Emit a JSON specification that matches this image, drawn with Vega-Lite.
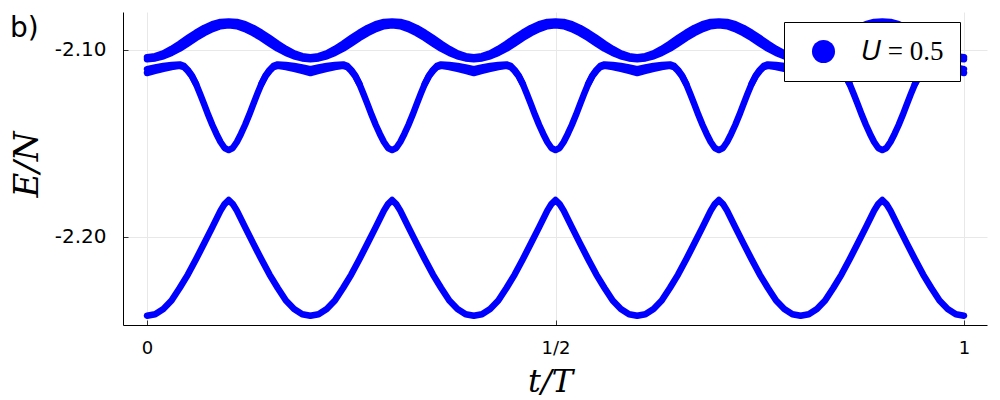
{
"$schema":"https://vega.github.io/schema/vega-lite/v6.json",
"width":864,"height":313,
"autosize":{"type":"none"},
"padding":{"left":123,"top":12,"right":13,"bottom":75},
"background":"white",
"title":{"text":"b)","anchor":"start","frame":"group","orient":"top","offset":0,"dx":-113,"dy":53,"baseline":"alphabetic","fontSize":28,"font":"DejaVu Sans","fontWeight":"normal","color":"black"},
"config":{"view":{"stroke":null}},
"data":{"values":[
{"t":0,"E":-2.1038,"c":"a"},{"t":0.01,"E":-2.1033,"c":"a"},{"t":0.02,"E":-2.1018,"c":"a"},{"t":0.03,"E":-2.0994,"c":"a"},{"t":0.04,"E":-2.0966,"c":"a"},{"t":0.05,"E":-2.0936,"c":"a"},{"t":0.06,"E":-2.0907,"c":"a"},{"t":0.07,"E":-2.0882,"c":"a"},{"t":0.08,"E":-2.0862,"c":"a"},{"t":0.09,"E":-2.085,"c":"a"},{"t":0.1,"E":-2.0847,"c":"a"},{"t":0.11,"E":-2.085,"c":"a"},{"t":0.12,"E":-2.0862,"c":"a"},{"t":0.13,"E":-2.0882,"c":"a"},{"t":0.14,"E":-2.0907,"c":"a"},{"t":0.15,"E":-2.0936,"c":"a"},{"t":0.16,"E":-2.0966,"c":"a"},{"t":0.17,"E":-2.0994,"c":"a"},{"t":0.18,"E":-2.1018,"c":"a"},{"t":0.19,"E":-2.1033,"c":"a"},
{"t":0.2,"E":-2.1038,"c":"a"},{"t":0.21,"E":-2.1033,"c":"a"},{"t":0.22,"E":-2.1018,"c":"a"},{"t":0.23,"E":-2.0994,"c":"a"},{"t":0.24,"E":-2.0966,"c":"a"},{"t":0.25,"E":-2.0936,"c":"a"},{"t":0.26,"E":-2.0907,"c":"a"},{"t":0.27,"E":-2.0882,"c":"a"},{"t":0.28,"E":-2.0862,"c":"a"},{"t":0.29,"E":-2.085,"c":"a"},{"t":0.3,"E":-2.0847,"c":"a"},{"t":0.31,"E":-2.085,"c":"a"},{"t":0.32,"E":-2.0862,"c":"a"},{"t":0.33,"E":-2.0882,"c":"a"},{"t":0.34,"E":-2.0907,"c":"a"},{"t":0.35,"E":-2.0936,"c":"a"},{"t":0.36,"E":-2.0966,"c":"a"},{"t":0.37,"E":-2.0994,"c":"a"},{"t":0.38,"E":-2.1018,"c":"a"},{"t":0.39,"E":-2.1033,"c":"a"},
{"t":0.4,"E":-2.1038,"c":"a"},{"t":0.41,"E":-2.1033,"c":"a"},{"t":0.42,"E":-2.1018,"c":"a"},{"t":0.43,"E":-2.0994,"c":"a"},{"t":0.44,"E":-2.0966,"c":"a"},{"t":0.45,"E":-2.0936,"c":"a"},{"t":0.46,"E":-2.0907,"c":"a"},{"t":0.47,"E":-2.0882,"c":"a"},{"t":0.48,"E":-2.0862,"c":"a"},{"t":0.49,"E":-2.085,"c":"a"},{"t":0.5,"E":-2.0847,"c":"a"},{"t":0.51,"E":-2.085,"c":"a"},{"t":0.52,"E":-2.0862,"c":"a"},{"t":0.53,"E":-2.0882,"c":"a"},{"t":0.54,"E":-2.0907,"c":"a"},{"t":0.55,"E":-2.0936,"c":"a"},{"t":0.56,"E":-2.0966,"c":"a"},{"t":0.57,"E":-2.0994,"c":"a"},{"t":0.58,"E":-2.1018,"c":"a"},{"t":0.59,"E":-2.1033,"c":"a"},
{"t":0.6,"E":-2.1038,"c":"a"},{"t":0.61,"E":-2.1033,"c":"a"},{"t":0.62,"E":-2.1018,"c":"a"},{"t":0.63,"E":-2.0994,"c":"a"},{"t":0.64,"E":-2.0966,"c":"a"},{"t":0.65,"E":-2.0936,"c":"a"},{"t":0.66,"E":-2.0907,"c":"a"},{"t":0.67,"E":-2.0882,"c":"a"},{"t":0.68,"E":-2.0862,"c":"a"},{"t":0.69,"E":-2.085,"c":"a"},{"t":0.7,"E":-2.0847,"c":"a"},{"t":0.71,"E":-2.085,"c":"a"},{"t":0.72,"E":-2.0862,"c":"a"},{"t":0.73,"E":-2.0882,"c":"a"},{"t":0.74,"E":-2.0907,"c":"a"},{"t":0.75,"E":-2.0936,"c":"a"},{"t":0.76,"E":-2.0966,"c":"a"},{"t":0.77,"E":-2.0994,"c":"a"},{"t":0.78,"E":-2.1018,"c":"a"},{"t":0.79,"E":-2.1033,"c":"a"},
{"t":0.8,"E":-2.1038,"c":"a"},{"t":0.81,"E":-2.1033,"c":"a"},{"t":0.82,"E":-2.1018,"c":"a"},{"t":0.83,"E":-2.0994,"c":"a"},{"t":0.84,"E":-2.0966,"c":"a"},{"t":0.85,"E":-2.0936,"c":"a"},{"t":0.86,"E":-2.0907,"c":"a"},{"t":0.87,"E":-2.0882,"c":"a"},{"t":0.88,"E":-2.0862,"c":"a"},{"t":0.89,"E":-2.085,"c":"a"},{"t":0.9,"E":-2.0847,"c":"a"},{"t":0.91,"E":-2.085,"c":"a"},{"t":0.92,"E":-2.0862,"c":"a"},{"t":0.93,"E":-2.0882,"c":"a"},{"t":0.94,"E":-2.0907,"c":"a"},{"t":0.95,"E":-2.0936,"c":"a"},{"t":0.96,"E":-2.0966,"c":"a"},{"t":0.97,"E":-2.0994,"c":"a"},{"t":0.98,"E":-2.1018,"c":"a"},{"t":0.99,"E":-2.1033,"c":"a"},{"t":1,"E":-2.1038,"c":"a"},
{"t":0,"E":-2.1049,"c":"b"},{"t":0.01,"E":-2.1045,"c":"b"},{"t":0.02,"E":-2.1034,"c":"b"},{"t":0.03,"E":-2.1016,"c":"b"},{"t":0.04,"E":-2.0993,"c":"b"},{"t":0.05,"E":-2.0965,"c":"b"},{"t":0.06,"E":-2.0936,"c":"b"},{"t":0.07,"E":-2.091,"c":"b"},{"t":0.08,"E":-2.0888,"c":"b"},{"t":0.09,"E":-2.0873,"c":"b"},{"t":0.1,"E":-2.0868,"c":"b"},{"t":0.11,"E":-2.0873,"c":"b"},{"t":0.12,"E":-2.0888,"c":"b"},{"t":0.13,"E":-2.091,"c":"b"},{"t":0.14,"E":-2.0936,"c":"b"},{"t":0.15,"E":-2.0965,"c":"b"},{"t":0.16,"E":-2.0993,"c":"b"},{"t":0.17,"E":-2.1016,"c":"b"},{"t":0.18,"E":-2.1034,"c":"b"},{"t":0.19,"E":-2.1045,"c":"b"},
{"t":0.2,"E":-2.1049,"c":"b"},{"t":0.21,"E":-2.1045,"c":"b"},{"t":0.22,"E":-2.1034,"c":"b"},{"t":0.23,"E":-2.1016,"c":"b"},{"t":0.24,"E":-2.0993,"c":"b"},{"t":0.25,"E":-2.0965,"c":"b"},{"t":0.26,"E":-2.0936,"c":"b"},{"t":0.27,"E":-2.091,"c":"b"},{"t":0.28,"E":-2.0888,"c":"b"},{"t":0.29,"E":-2.0873,"c":"b"},{"t":0.3,"E":-2.0868,"c":"b"},{"t":0.31,"E":-2.0873,"c":"b"},{"t":0.32,"E":-2.0888,"c":"b"},{"t":0.33,"E":-2.091,"c":"b"},{"t":0.34,"E":-2.0936,"c":"b"},{"t":0.35,"E":-2.0965,"c":"b"},{"t":0.36,"E":-2.0993,"c":"b"},{"t":0.37,"E":-2.1016,"c":"b"},{"t":0.38,"E":-2.1034,"c":"b"},{"t":0.39,"E":-2.1045,"c":"b"},
{"t":0.4,"E":-2.1049,"c":"b"},{"t":0.41,"E":-2.1045,"c":"b"},{"t":0.42,"E":-2.1034,"c":"b"},{"t":0.43,"E":-2.1016,"c":"b"},{"t":0.44,"E":-2.0993,"c":"b"},{"t":0.45,"E":-2.0965,"c":"b"},{"t":0.46,"E":-2.0936,"c":"b"},{"t":0.47,"E":-2.091,"c":"b"},{"t":0.48,"E":-2.0888,"c":"b"},{"t":0.49,"E":-2.0873,"c":"b"},{"t":0.5,"E":-2.0868,"c":"b"},{"t":0.51,"E":-2.0873,"c":"b"},{"t":0.52,"E":-2.0888,"c":"b"},{"t":0.53,"E":-2.091,"c":"b"},{"t":0.54,"E":-2.0936,"c":"b"},{"t":0.55,"E":-2.0965,"c":"b"},{"t":0.56,"E":-2.0993,"c":"b"},{"t":0.57,"E":-2.1016,"c":"b"},{"t":0.58,"E":-2.1034,"c":"b"},{"t":0.59,"E":-2.1045,"c":"b"},
{"t":0.6,"E":-2.1049,"c":"b"},{"t":0.61,"E":-2.1045,"c":"b"},{"t":0.62,"E":-2.1034,"c":"b"},{"t":0.63,"E":-2.1016,"c":"b"},{"t":0.64,"E":-2.0993,"c":"b"},{"t":0.65,"E":-2.0965,"c":"b"},{"t":0.66,"E":-2.0936,"c":"b"},{"t":0.67,"E":-2.091,"c":"b"},{"t":0.68,"E":-2.0888,"c":"b"},{"t":0.69,"E":-2.0873,"c":"b"},{"t":0.7,"E":-2.0868,"c":"b"},{"t":0.71,"E":-2.0873,"c":"b"},{"t":0.72,"E":-2.0888,"c":"b"},{"t":0.73,"E":-2.091,"c":"b"},{"t":0.74,"E":-2.0936,"c":"b"},{"t":0.75,"E":-2.0965,"c":"b"},{"t":0.76,"E":-2.0993,"c":"b"},{"t":0.77,"E":-2.1016,"c":"b"},{"t":0.78,"E":-2.1034,"c":"b"},{"t":0.79,"E":-2.1045,"c":"b"},
{"t":0.8,"E":-2.1049,"c":"b"},{"t":0.81,"E":-2.1045,"c":"b"},{"t":0.82,"E":-2.1034,"c":"b"},{"t":0.83,"E":-2.1016,"c":"b"},{"t":0.84,"E":-2.0993,"c":"b"},{"t":0.85,"E":-2.0965,"c":"b"},{"t":0.86,"E":-2.0936,"c":"b"},{"t":0.87,"E":-2.091,"c":"b"},{"t":0.88,"E":-2.0888,"c":"b"},{"t":0.89,"E":-2.0873,"c":"b"},{"t":0.9,"E":-2.0868,"c":"b"},{"t":0.91,"E":-2.0873,"c":"b"},{"t":0.92,"E":-2.0888,"c":"b"},{"t":0.93,"E":-2.091,"c":"b"},{"t":0.94,"E":-2.0936,"c":"b"},{"t":0.95,"E":-2.0965,"c":"b"},{"t":0.96,"E":-2.0993,"c":"b"},{"t":0.97,"E":-2.1016,"c":"b"},{"t":0.98,"E":-2.1034,"c":"b"},{"t":0.99,"E":-2.1045,"c":"b"},{"t":1,"E":-2.1049,"c":"b"},
{"t":0,"E":-2.1102,"c":"m"},{"t":0.01,"E":-2.1093,"c":"m"},{"t":0.02,"E":-2.1085,"c":"m"},{"t":0.03,"E":-2.108,"c":"m"},{"t":0.04,"E":-2.1077,"c":"m"},{"t":0.045,"E":-2.1085,"c":"m"},{"t":0.05,"E":-2.1107,"c":"m"},{"t":0.055,"E":-2.1137,"c":"m"},{"t":0.06,"E":-2.1182,"c":"m"},{"t":0.065,"E":-2.1235,"c":"m"},{"t":0.07,"E":-2.1291,"c":"m"},{"t":0.075,"E":-2.1348,"c":"m"},{"t":0.08,"E":-2.1401,"c":"m"},{"t":0.085,"E":-2.1449,"c":"m"},{"t":0.09,"E":-2.1492,"c":"m"},{"t":0.095,"E":-2.1524,"c":"m"},{"t":0.1,"E":-2.1535,"c":"m"},{"t":0.105,"E":-2.1524,"c":"m"},{"t":0.11,"E":-2.1492,"c":"m"},{"t":0.115,"E":-2.1449,"c":"m"},{"t":0.12,"E":-2.1401,"c":"m"},{"t":0.125,"E":-2.1348,"c":"m"},{"t":0.13,"E":-2.1291,"c":"m"},{"t":0.135,"E":-2.1235,"c":"m"},{"t":0.14,"E":-2.1182,"c":"m"},{"t":0.145,"E":-2.1137,"c":"m"},{"t":0.15,"E":-2.1107,"c":"m"},{"t":0.155,"E":-2.1085,"c":"m"},{"t":0.16,"E":-2.1077,"c":"m"},{"t":0.17,"E":-2.108,"c":"m"},{"t":0.18,"E":-2.1085,"c":"m"},{"t":0.19,"E":-2.1093,"c":"m"},
{"t":0.2,"E":-2.1102,"c":"m"},{"t":0.21,"E":-2.1093,"c":"m"},{"t":0.22,"E":-2.1085,"c":"m"},{"t":0.23,"E":-2.108,"c":"m"},{"t":0.24,"E":-2.1077,"c":"m"},{"t":0.245,"E":-2.1085,"c":"m"},{"t":0.25,"E":-2.1107,"c":"m"},{"t":0.255,"E":-2.1137,"c":"m"},{"t":0.26,"E":-2.1182,"c":"m"},{"t":0.265,"E":-2.1235,"c":"m"},{"t":0.27,"E":-2.1291,"c":"m"},{"t":0.275,"E":-2.1348,"c":"m"},{"t":0.28,"E":-2.1401,"c":"m"},{"t":0.285,"E":-2.1449,"c":"m"},{"t":0.29,"E":-2.1492,"c":"m"},{"t":0.295,"E":-2.1524,"c":"m"},{"t":0.3,"E":-2.1535,"c":"m"},{"t":0.305,"E":-2.1524,"c":"m"},{"t":0.31,"E":-2.1492,"c":"m"},{"t":0.315,"E":-2.1449,"c":"m"},{"t":0.32,"E":-2.1401,"c":"m"},{"t":0.325,"E":-2.1348,"c":"m"},{"t":0.33,"E":-2.1291,"c":"m"},{"t":0.335,"E":-2.1235,"c":"m"},{"t":0.34,"E":-2.1182,"c":"m"},{"t":0.345,"E":-2.1137,"c":"m"},{"t":0.35,"E":-2.1107,"c":"m"},{"t":0.355,"E":-2.1085,"c":"m"},{"t":0.36,"E":-2.1077,"c":"m"},{"t":0.37,"E":-2.108,"c":"m"},{"t":0.38,"E":-2.1085,"c":"m"},{"t":0.39,"E":-2.1093,"c":"m"},
{"t":0.4,"E":-2.1102,"c":"m"},{"t":0.41,"E":-2.1093,"c":"m"},{"t":0.42,"E":-2.1085,"c":"m"},{"t":0.43,"E":-2.108,"c":"m"},{"t":0.44,"E":-2.1077,"c":"m"},{"t":0.445,"E":-2.1085,"c":"m"},{"t":0.45,"E":-2.1107,"c":"m"},{"t":0.455,"E":-2.1137,"c":"m"},{"t":0.46,"E":-2.1182,"c":"m"},{"t":0.465,"E":-2.1235,"c":"m"},{"t":0.47,"E":-2.1291,"c":"m"},{"t":0.475,"E":-2.1348,"c":"m"},{"t":0.48,"E":-2.1401,"c":"m"},{"t":0.485,"E":-2.1449,"c":"m"},{"t":0.49,"E":-2.1492,"c":"m"},{"t":0.495,"E":-2.1524,"c":"m"},{"t":0.5,"E":-2.1535,"c":"m"},{"t":0.505,"E":-2.1524,"c":"m"},{"t":0.51,"E":-2.1492,"c":"m"},{"t":0.515,"E":-2.1449,"c":"m"},{"t":0.52,"E":-2.1401,"c":"m"},{"t":0.525,"E":-2.1348,"c":"m"},{"t":0.53,"E":-2.1291,"c":"m"},{"t":0.535,"E":-2.1235,"c":"m"},{"t":0.54,"E":-2.1182,"c":"m"},{"t":0.545,"E":-2.1137,"c":"m"},{"t":0.55,"E":-2.1107,"c":"m"},{"t":0.555,"E":-2.1085,"c":"m"},{"t":0.56,"E":-2.1077,"c":"m"},{"t":0.57,"E":-2.108,"c":"m"},{"t":0.58,"E":-2.1085,"c":"m"},{"t":0.59,"E":-2.1093,"c":"m"},
{"t":0.6,"E":-2.1102,"c":"m"},{"t":0.61,"E":-2.1093,"c":"m"},{"t":0.62,"E":-2.1085,"c":"m"},{"t":0.63,"E":-2.108,"c":"m"},{"t":0.64,"E":-2.1077,"c":"m"},{"t":0.645,"E":-2.1085,"c":"m"},{"t":0.65,"E":-2.1107,"c":"m"},{"t":0.655,"E":-2.1137,"c":"m"},{"t":0.66,"E":-2.1182,"c":"m"},{"t":0.665,"E":-2.1235,"c":"m"},{"t":0.67,"E":-2.1291,"c":"m"},{"t":0.675,"E":-2.1348,"c":"m"},{"t":0.68,"E":-2.1401,"c":"m"},{"t":0.685,"E":-2.1449,"c":"m"},{"t":0.69,"E":-2.1492,"c":"m"},{"t":0.695,"E":-2.1524,"c":"m"},{"t":0.7,"E":-2.1535,"c":"m"},{"t":0.705,"E":-2.1524,"c":"m"},{"t":0.71,"E":-2.1492,"c":"m"},{"t":0.715,"E":-2.1449,"c":"m"},{"t":0.72,"E":-2.1401,"c":"m"},{"t":0.725,"E":-2.1348,"c":"m"},{"t":0.73,"E":-2.1291,"c":"m"},{"t":0.735,"E":-2.1235,"c":"m"},{"t":0.74,"E":-2.1182,"c":"m"},{"t":0.745,"E":-2.1137,"c":"m"},{"t":0.75,"E":-2.1107,"c":"m"},{"t":0.755,"E":-2.1085,"c":"m"},{"t":0.76,"E":-2.1077,"c":"m"},{"t":0.77,"E":-2.108,"c":"m"},{"t":0.78,"E":-2.1085,"c":"m"},{"t":0.79,"E":-2.1093,"c":"m"},
{"t":0.8,"E":-2.1102,"c":"m"},{"t":0.81,"E":-2.1093,"c":"m"},{"t":0.82,"E":-2.1085,"c":"m"},{"t":0.83,"E":-2.108,"c":"m"},{"t":0.84,"E":-2.1077,"c":"m"},{"t":0.845,"E":-2.1085,"c":"m"},{"t":0.85,"E":-2.1107,"c":"m"},{"t":0.855,"E":-2.1137,"c":"m"},{"t":0.86,"E":-2.1182,"c":"m"},{"t":0.865,"E":-2.1235,"c":"m"},{"t":0.87,"E":-2.1291,"c":"m"},{"t":0.875,"E":-2.1348,"c":"m"},{"t":0.88,"E":-2.1401,"c":"m"},{"t":0.885,"E":-2.1449,"c":"m"},{"t":0.89,"E":-2.1492,"c":"m"},{"t":0.895,"E":-2.1524,"c":"m"},{"t":0.9,"E":-2.1535,"c":"m"},{"t":0.905,"E":-2.1524,"c":"m"},{"t":0.91,"E":-2.1492,"c":"m"},{"t":0.915,"E":-2.1449,"c":"m"},{"t":0.92,"E":-2.1401,"c":"m"},{"t":0.925,"E":-2.1348,"c":"m"},{"t":0.93,"E":-2.1291,"c":"m"},{"t":0.935,"E":-2.1235,"c":"m"},{"t":0.94,"E":-2.1182,"c":"m"},{"t":0.945,"E":-2.1137,"c":"m"},{"t":0.95,"E":-2.1107,"c":"m"},{"t":0.955,"E":-2.1085,"c":"m"},{"t":0.96,"E":-2.1077,"c":"m"},{"t":0.97,"E":-2.108,"c":"m"},{"t":0.98,"E":-2.1085,"c":"m"},{"t":0.99,"E":-2.1093,"c":"m"},{"t":1,"E":-2.1102,"c":"m"},
{"t":0,"E":-2.1123,"c":"n0"},{"t":0.01,"E":-2.1112,"c":"n0"},{"t":0.02,"E":-2.1101,"c":"n0"},{"t":0.03,"E":-2.1091,"c":"n0"},{"t":0.04,"E":-2.1085,"c":"n0"},{"t":0.045,"E":-2.1091,"c":"n0"},{"t":0.05,"E":-2.1112,"c":"n0"},{"t":0.055,"E":-2.1141,"c":"n0"},{"t":0.06,"E":-2.1182,"c":"n0"},
{"t":0.14,"E":-2.1182,"c":"n1"},{"t":0.145,"E":-2.1141,"c":"n1"},{"t":0.15,"E":-2.1112,"c":"n1"},{"t":0.155,"E":-2.1091,"c":"n1"},{"t":0.16,"E":-2.1085,"c":"n1"},{"t":0.17,"E":-2.1091,"c":"n1"},{"t":0.18,"E":-2.1101,"c":"n1"},{"t":0.19,"E":-2.1112,"c":"n1"},{"t":0.2,"E":-2.1123,"c":"n1"},{"t":0.21,"E":-2.1112,"c":"n1"},{"t":0.22,"E":-2.1101,"c":"n1"},{"t":0.23,"E":-2.1091,"c":"n1"},{"t":0.24,"E":-2.1085,"c":"n1"},{"t":0.245,"E":-2.1091,"c":"n1"},{"t":0.25,"E":-2.1112,"c":"n1"},{"t":0.255,"E":-2.1141,"c":"n1"},{"t":0.26,"E":-2.1182,"c":"n1"},
{"t":0.34,"E":-2.1182,"c":"n2"},{"t":0.345,"E":-2.1141,"c":"n2"},{"t":0.35,"E":-2.1112,"c":"n2"},{"t":0.355,"E":-2.1091,"c":"n2"},{"t":0.36,"E":-2.1085,"c":"n2"},{"t":0.37,"E":-2.1091,"c":"n2"},{"t":0.38,"E":-2.1101,"c":"n2"},{"t":0.39,"E":-2.1112,"c":"n2"},{"t":0.4,"E":-2.1123,"c":"n2"},{"t":0.41,"E":-2.1112,"c":"n2"},{"t":0.42,"E":-2.1101,"c":"n2"},{"t":0.43,"E":-2.1091,"c":"n2"},{"t":0.44,"E":-2.1085,"c":"n2"},{"t":0.445,"E":-2.1091,"c":"n2"},{"t":0.45,"E":-2.1112,"c":"n2"},{"t":0.455,"E":-2.1141,"c":"n2"},{"t":0.46,"E":-2.1182,"c":"n2"},
{"t":0.54,"E":-2.1182,"c":"n3"},{"t":0.545,"E":-2.1141,"c":"n3"},{"t":0.55,"E":-2.1112,"c":"n3"},{"t":0.555,"E":-2.1091,"c":"n3"},{"t":0.56,"E":-2.1085,"c":"n3"},{"t":0.57,"E":-2.1091,"c":"n3"},{"t":0.58,"E":-2.1101,"c":"n3"},{"t":0.59,"E":-2.1112,"c":"n3"},{"t":0.6,"E":-2.1123,"c":"n3"},{"t":0.61,"E":-2.1112,"c":"n3"},{"t":0.62,"E":-2.1101,"c":"n3"},{"t":0.63,"E":-2.1091,"c":"n3"},{"t":0.64,"E":-2.1085,"c":"n3"},{"t":0.645,"E":-2.1091,"c":"n3"},{"t":0.65,"E":-2.1112,"c":"n3"},{"t":0.655,"E":-2.1141,"c":"n3"},{"t":0.66,"E":-2.1182,"c":"n3"},
{"t":0.74,"E":-2.1182,"c":"n4"},{"t":0.745,"E":-2.1141,"c":"n4"},{"t":0.75,"E":-2.1112,"c":"n4"},{"t":0.755,"E":-2.1091,"c":"n4"},{"t":0.76,"E":-2.1085,"c":"n4"},{"t":0.77,"E":-2.1091,"c":"n4"},{"t":0.78,"E":-2.1101,"c":"n4"},{"t":0.79,"E":-2.1112,"c":"n4"},{"t":0.8,"E":-2.1123,"c":"n4"},{"t":0.81,"E":-2.1112,"c":"n4"},{"t":0.82,"E":-2.1101,"c":"n4"},{"t":0.83,"E":-2.1091,"c":"n4"},{"t":0.84,"E":-2.1085,"c":"n4"},{"t":0.845,"E":-2.1091,"c":"n4"},{"t":0.85,"E":-2.1112,"c":"n4"},{"t":0.855,"E":-2.1141,"c":"n4"},{"t":0.86,"E":-2.1182,"c":"n4"},
{"t":0.94,"E":-2.1182,"c":"n5"},{"t":0.945,"E":-2.1141,"c":"n5"},{"t":0.95,"E":-2.1112,"c":"n5"},{"t":0.955,"E":-2.1091,"c":"n5"},{"t":0.96,"E":-2.1085,"c":"n5"},{"t":0.97,"E":-2.1091,"c":"n5"},{"t":0.98,"E":-2.1101,"c":"n5"},{"t":0.99,"E":-2.1112,"c":"n5"},{"t":1,"E":-2.1123,"c":"n5"},
{"t":0,"E":-2.2421,"c":"z"},{"t":0.01,"E":-2.2413,"c":"z"},{"t":0.02,"E":-2.2385,"c":"z"},{"t":0.03,"E":-2.234,"c":"z"},{"t":0.04,"E":-2.2273,"c":"z"},{"t":0.05,"E":-2.2201,"c":"z"},{"t":0.06,"E":-2.2119,"c":"z"},{"t":0.07,"E":-2.2034,"c":"z"},{"t":0.08,"E":-2.1947,"c":"z"},{"t":0.09,"E":-2.1859,"c":"z"},{"t":0.095,"E":-2.1824,"c":"z"},{"t":0.1,"E":-2.1802,"c":"z"},{"t":0.105,"E":-2.1824,"c":"z"},{"t":0.11,"E":-2.1859,"c":"z"},{"t":0.12,"E":-2.1947,"c":"z"},{"t":0.13,"E":-2.2034,"c":"z"},{"t":0.14,"E":-2.2119,"c":"z"},{"t":0.15,"E":-2.2201,"c":"z"},{"t":0.16,"E":-2.2273,"c":"z"},{"t":0.17,"E":-2.234,"c":"z"},{"t":0.18,"E":-2.2385,"c":"z"},{"t":0.19,"E":-2.2413,"c":"z"},
{"t":0.2,"E":-2.2421,"c":"z"},{"t":0.21,"E":-2.2413,"c":"z"},{"t":0.22,"E":-2.2385,"c":"z"},{"t":0.23,"E":-2.234,"c":"z"},{"t":0.24,"E":-2.2273,"c":"z"},{"t":0.25,"E":-2.2201,"c":"z"},{"t":0.26,"E":-2.2119,"c":"z"},{"t":0.27,"E":-2.2034,"c":"z"},{"t":0.28,"E":-2.1947,"c":"z"},{"t":0.29,"E":-2.1859,"c":"z"},{"t":0.295,"E":-2.1824,"c":"z"},{"t":0.3,"E":-2.1802,"c":"z"},{"t":0.305,"E":-2.1824,"c":"z"},{"t":0.31,"E":-2.1859,"c":"z"},{"t":0.32,"E":-2.1947,"c":"z"},{"t":0.33,"E":-2.2034,"c":"z"},{"t":0.34,"E":-2.2119,"c":"z"},{"t":0.35,"E":-2.2201,"c":"z"},{"t":0.36,"E":-2.2273,"c":"z"},{"t":0.37,"E":-2.234,"c":"z"},{"t":0.38,"E":-2.2385,"c":"z"},{"t":0.39,"E":-2.2413,"c":"z"},
{"t":0.4,"E":-2.2421,"c":"z"},{"t":0.41,"E":-2.2413,"c":"z"},{"t":0.42,"E":-2.2385,"c":"z"},{"t":0.43,"E":-2.234,"c":"z"},{"t":0.44,"E":-2.2273,"c":"z"},{"t":0.45,"E":-2.2201,"c":"z"},{"t":0.46,"E":-2.2119,"c":"z"},{"t":0.47,"E":-2.2034,"c":"z"},{"t":0.48,"E":-2.1947,"c":"z"},{"t":0.49,"E":-2.1859,"c":"z"},{"t":0.495,"E":-2.1824,"c":"z"},{"t":0.5,"E":-2.1802,"c":"z"},{"t":0.505,"E":-2.1824,"c":"z"},{"t":0.51,"E":-2.1859,"c":"z"},{"t":0.52,"E":-2.1947,"c":"z"},{"t":0.53,"E":-2.2034,"c":"z"},{"t":0.54,"E":-2.2119,"c":"z"},{"t":0.55,"E":-2.2201,"c":"z"},{"t":0.56,"E":-2.2273,"c":"z"},{"t":0.57,"E":-2.234,"c":"z"},{"t":0.58,"E":-2.2385,"c":"z"},{"t":0.59,"E":-2.2413,"c":"z"},
{"t":0.6,"E":-2.2421,"c":"z"},{"t":0.61,"E":-2.2413,"c":"z"},{"t":0.62,"E":-2.2385,"c":"z"},{"t":0.63,"E":-2.234,"c":"z"},{"t":0.64,"E":-2.2273,"c":"z"},{"t":0.65,"E":-2.2201,"c":"z"},{"t":0.66,"E":-2.2119,"c":"z"},{"t":0.67,"E":-2.2034,"c":"z"},{"t":0.68,"E":-2.1947,"c":"z"},{"t":0.69,"E":-2.1859,"c":"z"},{"t":0.695,"E":-2.1824,"c":"z"},{"t":0.7,"E":-2.1802,"c":"z"},{"t":0.705,"E":-2.1824,"c":"z"},{"t":0.71,"E":-2.1859,"c":"z"},{"t":0.72,"E":-2.1947,"c":"z"},{"t":0.73,"E":-2.2034,"c":"z"},{"t":0.74,"E":-2.2119,"c":"z"},{"t":0.75,"E":-2.2201,"c":"z"},{"t":0.76,"E":-2.2273,"c":"z"},{"t":0.77,"E":-2.234,"c":"z"},{"t":0.78,"E":-2.2385,"c":"z"},{"t":0.79,"E":-2.2413,"c":"z"},
{"t":0.8,"E":-2.2421,"c":"z"},{"t":0.81,"E":-2.2413,"c":"z"},{"t":0.82,"E":-2.2385,"c":"z"},{"t":0.83,"E":-2.234,"c":"z"},{"t":0.84,"E":-2.2273,"c":"z"},{"t":0.85,"E":-2.2201,"c":"z"},{"t":0.86,"E":-2.2119,"c":"z"},{"t":0.87,"E":-2.2034,"c":"z"},{"t":0.88,"E":-2.1947,"c":"z"},{"t":0.89,"E":-2.1859,"c":"z"},{"t":0.895,"E":-2.1824,"c":"z"},{"t":0.9,"E":-2.1802,"c":"z"},{"t":0.905,"E":-2.1824,"c":"z"},{"t":0.91,"E":-2.1859,"c":"z"},{"t":0.92,"E":-2.1947,"c":"z"},{"t":0.93,"E":-2.2034,"c":"z"},{"t":0.94,"E":-2.2119,"c":"z"},{"t":0.95,"E":-2.2201,"c":"z"},{"t":0.96,"E":-2.2273,"c":"z"},{"t":0.97,"E":-2.234,"c":"z"},{"t":0.98,"E":-2.2385,"c":"z"},{"t":0.99,"E":-2.2413,"c":"z"},{"t":1,"E":-2.2421,"c":"z"}
]},
"mark":{"type":"line","strokeWidth":6.5,"strokeCap":"round","strokeJoin":"round"},
"encoding":{
"x":{"field":"t","type":"quantitative","scale":{"domain":[-0.02938,1.02815],"nice":false,"zero":false},
 "axis":{"title":"t/T","titleFont":"DejaVu Serif","titleFontStyle":"italic","titleFontWeight":"normal","titleFontSize":32,"titleColor":"black","titleX":427,"titleY":56,"titleBaseline":"middle","titleAlign":"center",
 "values":[0,0.5,1],"labelExpr":"datum.value==0.5?'1/2':(datum.value==0?'0':'1')","labelFont":"DejaVu Sans","labelFontSize":18,"labelColor":"black","labelPadding":19,"labelFlush":false,"labelOverlap":false,
 "ticks":true,"tickSize":-5,"tickColor":"#333333","domainColor":"black","domainWidth":1,"grid":true,"gridColor":"#e8e8e8","gridWidth":1}},
"y":{"field":"E","type":"quantitative","scale":{"domain":[-2.24706,-2.07968],"nice":false,"zero":false},
 "axis":{"title":"E/N","titleFont":"DejaVu Serif","titleFontStyle":"italic","titleFontWeight":"normal","titleFontSize":34,"titleColor":"black","titleX":-96,"titleY":152,"titleBaseline":"middle","titleAlign":"center","titleAngle":-90,
 "values":[-2.1,-2.2],"labelExpr":"datum.value>-2.15?'-2.10':'-2.20'","labelFont":"DejaVu Sans","labelFontSize":20,"labelColor":"black","labelPadding":22,"labelFlush":false,"labelOverlap":false,
 "ticks":true,"tickSize":-5,"tickColor":"#333333","domainColor":"black","domainWidth":1,"grid":true,"gridColor":"#e8e8e8","gridWidth":1}},
"detail":{"field":"c"},
"color":{"datum":"𝑈 = 0.5","scale":{"range":["#0000ff"]},
 "legend":{"orient":"none","legendX":661,"legendY":10,"title":null,"padding":16,"strokeColor":"black","fillColor":"white","cornerRadius":0,
 "symbolType":"circle","symbolSize":531,"symbolFillColor":"#0000ff","symbolStrokeColor":"#0000ff","symbolStrokeWidth":0,"symbolOffset":10,"labelOffset":25,
 "labelFont":"Liberation Serif","labelFontSize":27,"labelColor":"black"}}
}
}
